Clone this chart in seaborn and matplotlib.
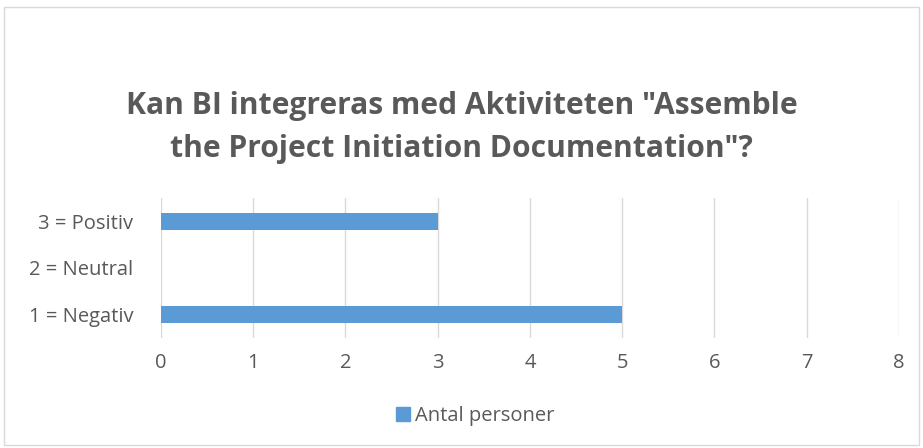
import matplotlib
matplotlib.use("Agg")
import matplotlib.pyplot as plt
import matplotlib.patches as mpatches
import seaborn as sns
import pandas as pd

categories = ["3 = Positiv", "2 = Neutral", "1 = Negativ"]
values = [3, 0, 5]
series_name = "Antal personer"
title = 'Kan BI integreras med Aktiviteten "Assemble\nthe Project Initiation Documentation"?'
x_ticks = [0, 1, 2, 3, 4, 5, 6, 7, 8]

sns.set_theme(style="white")
plt.rcParams["font.family"] = ["Open Sans", "DejaVu Sans"]

text_color = "#595959"
bar_color = "#5B9BD5"

df = pd.DataFrame({"kategori": categories, "antal": values})

fig = plt.figure(figsize=(9.23, 4.48), dpi=100)
ax = fig.add_axes([0.1744, 0.2455, 0.7996, 0.313])

sns.barplot(data=df, y="kategori", x="antal", order=categories, color=bar_color,
            saturation=1, width=0.36, linewidth=0, ax=ax)

ax.set_xlim(0, 8)
ax.set_xticks(x_ticks)
ax.set_xlabel("")
ax.set_ylabel("")
ax.grid(axis="x", color="#D9D9D9", linewidth=1)
ax.set_axisbelow(True)
for s in ax.spines.values():
    s.set_visible(False)
ax.tick_params(axis="both", length=0, labelsize=14.5, labelcolor=text_color)
ax.tick_params(axis="x", pad=11)
ax.tick_params(axis="y", pad=20)

fig.text(0.5, 0.716, title, ha="center", va="center", fontsize=21.6, fontweight="bold",
         color=text_color, linespacing=1.55)

handle = mpatches.Patch(color=bar_color, label=series_name)
fig.legend(handles=[handle], loc="center", bbox_to_anchor=(0.515, 0.072), frameon=False,
           fontsize=14.5, labelcolor=text_color, handlelength=0.7, handleheight=0.7,
           handletextpad=0.25)

fig.patches.append(mpatches.Rectangle((0.004, 0.006), 0.992, 0.979, transform=fig.transFigure,
                                      fill=False, edgecolor="#D9D9D9", linewidth=1))

fig.savefig("out.png", dpi=100)
